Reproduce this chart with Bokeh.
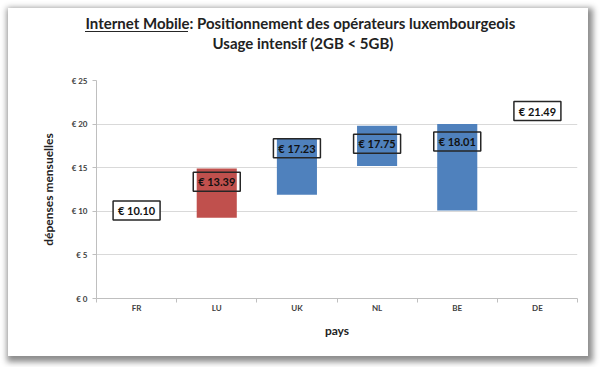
from bokeh.plotting import figure
from bokeh.models import Range1d, FixedTicker, PrintfTickFormatter, Title
from bokeh.core.properties import value
from bokeh.embed import file_html
from bokeh.resources import INLINE

# ---- data ----
countries = ["FR", "LU", "UK", "NL", "BE", "DE"]
price_labels = [10.10, 13.39, 17.23, 17.75, 18.01, 21.49]
bar_countries = ["LU", "UK", "NL", "BE"]
bar_min = [9.25, 11.9, 15.2, 10.1]
bar_max = [14.9, 18.3, 19.8, 20.0]
bar_colors = ["#C0504D", "#4F81BD", "#4F81BD", "#4F81BD"]
y_ticks = [0, 5, 10, 15, 20, 25]

title_line1 = "Internet Mobile: Positionnement des opérateurs luxembourgeois"
title_line2 = "Usage intensif (2GB < 5GB)"
x_title = "pays"
y_title = "dépenses mensuelles"

pos = {c: i + 0.5 for i, c in enumerate(countries)}
xs = [pos[c] for c in countries]
bar_xs = [pos[c] for c in bar_countries]

p = figure(width=580, height=348, output_backend="svg", toolbar_location=None,
           x_range=Range1d(0, len(countries)), y_range=Range1d(0, 25),
           min_border_left=88, min_border_right=11, min_border_top=72, min_border_bottom=58)
# white card with drop shadow; the underline of "Internet Mobile" is a CSS stroke
p.styles = {"margin-left": "8px", "margin-top": "8px",
            "box-shadow": "2px 3px 6px 3px rgba(0,0,0,0.45)",
            "background": "linear-gradient(#262626,#262626) no-repeat 77px 23px / 103px 1px, #ffffff"}
p.background_fill_color = "white"
p.border_fill_color = None
p.outline_line_color = None

p.xgrid.visible = False
p.ygrid.grid_line_color = "#D9D9D9"
p.ygrid.ticker = FixedTicker(ticks=y_ticks)

# bars
p.vbar(x=bar_xs, bottom=bar_min, top=bar_max, width=0.5, fill_color=bar_colors, line_color=None)

# label boxes
box_fill = ["white" if c not in bar_countries else "rgba(0,0,0,0)" for c in countries]
p.rect(x=xs, y=price_labels, width=47, height=19, width_units="screen", height_units="screen",
       fill_color=box_fill, line_color="#262626", line_width=1.5)
p.text(x=xs, y=price_labels, text=["€ %.2f" % v for v in price_labels],
       text_align="center", text_baseline="middle", text_font=value("Lato"),
       text_font_style="bold", text_font_size="11px", text_color="#111111")

# axes
xa = p.xaxis[0]
xa.ticker = FixedTicker(ticks=xs, minor_ticks=list(range(len(countries) + 1)))
xa.major_label_overrides = {x: c for x, c in zip(xs, countries)}
xa.major_tick_line_color = None
xa.minor_tick_line_color = "#BFBFBF"
xa.minor_tick_out = 4
xa.minor_tick_in = 0
xa.axis_line_color = "#BFBFBF"
xa.major_label_text_font = "Lato"
xa.major_label_text_font_style = "bold"
xa.major_label_text_font_size = "8px"
xa.major_label_text_color = "#404040"
xa.major_label_standoff = -2
xa.axis_label = x_title
xa.axis_label_text_font = "Lato"
xa.axis_label_text_font_style = "bold"
xa.axis_label_text_font_size = "12px"
xa.axis_label_text_color = "#222222"
xa.axis_label_standoff = 7

ya = p.yaxis[0]
ya.ticker = FixedTicker(ticks=y_ticks)
ya.formatter = PrintfTickFormatter(format="€ %d")
ya.major_tick_line_color = "#BFBFBF"
ya.major_tick_out = 4
ya.major_tick_in = 0
ya.minor_tick_line_color = None
ya.axis_line_color = "#BFBFBF"
ya.major_label_text_font = "Lato"
ya.major_label_text_font_style = "bold"
ya.major_label_text_font_size = "8px"
ya.major_label_text_color = "#404040"
ya.major_label_standoff = 5
ya.axis_label = y_title
ya.axis_label_text_font = "Lato"
ya.axis_label_text_font_style = "bold"
ya.axis_label_text_font_size = "12px"
ya.axis_label_text_color = "#222222"
ya.axis_label_standoff = 13

# thin blank spacer panel directly above the frame
p.add_layout(Title(text="\u00a0", standoff=22, text_font_size="1px",
                   text_color="white"), "above")

# titles (closest to the frame first)
p.add_layout(Title(text=title_line2, align="left", offset=116, standoff=4, vertical_align="top",
                   text_font="Lato", text_font_style="bold", text_font_size="15px",
                   text_color="#222222"), "above")
p.add_layout(Title(text=title_line1, align="left", offset=-11, standoff=0, vertical_align="bottom",
                   text_font="Lato", text_font_style="bold", text_font_size="15px",
                   text_color="#222222"), "above")

open("out.html", "w").write(file_html(p, INLINE))
